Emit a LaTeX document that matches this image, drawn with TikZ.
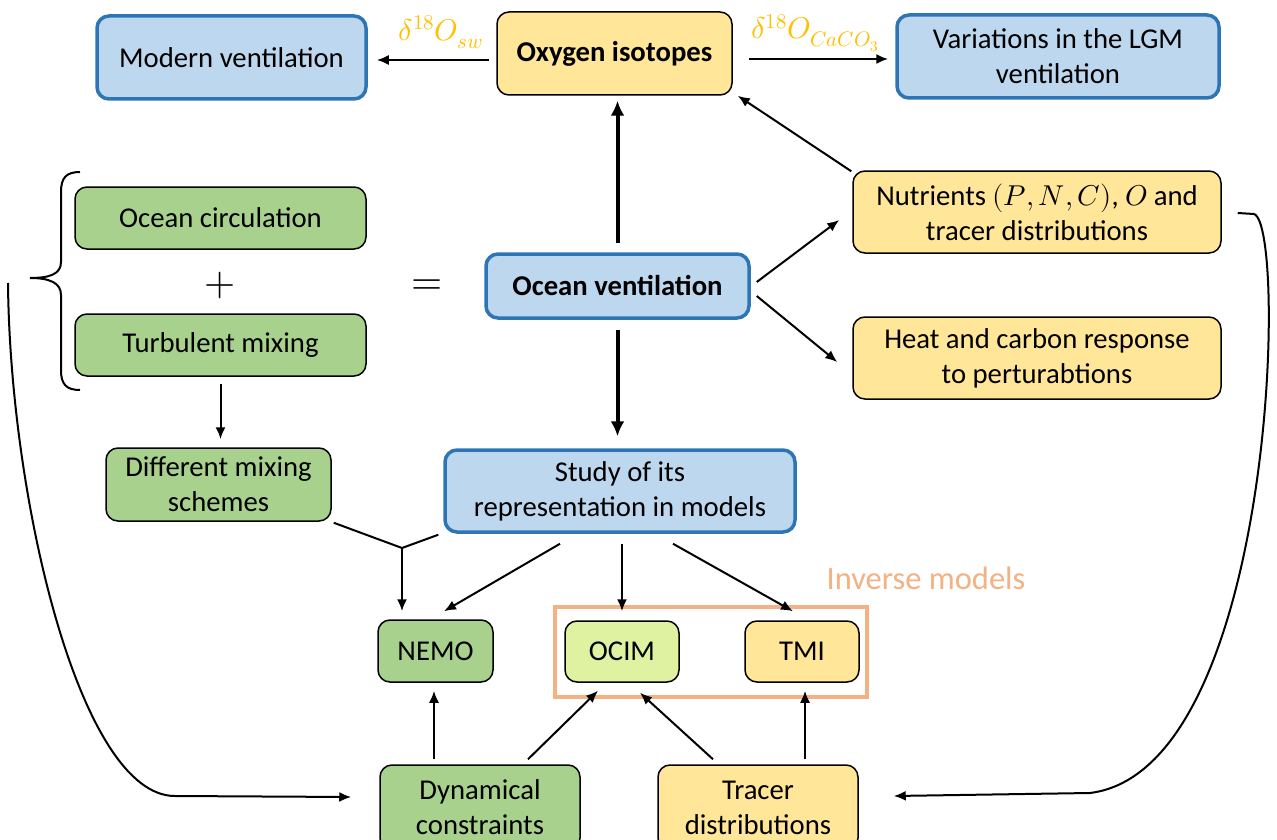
\documentclass[tikz,border=0pt]{standalone}
\usepackage{fontspec}
\usepackage{unicode-math}
\setmainfont{Carlito}
\usetikzlibrary{arrows.meta,calc}
\definecolor{bfill}{HTML}{BDD7EE}
\definecolor{bline}{HTML}{2E75B6}
\definecolor{yfill}{HTML}{FFE699}
\definecolor{gfill}{HTML}{A9D18E}
\definecolor{lgfill}{HTML}{DFF2A2}
\definecolor{orc}{HTML}{F4B183}
\definecolor{goldc}{HTML}{FFC000}
\begin{document}
\begin{tikzpicture}[x=1pt,y=-1pt,
  base/.style={rounded corners=12pt,align=center,inner sep=0pt,
    font=\fontsize{28.7}{35}\selectfont},
  bluebox/.style={base,draw=bline,line width=3.5pt,fill=bfill},
  yelbox/.style={base,draw=black,line width=1.5pt,fill=yfill},
  grnbox/.style={base,draw=black,line width=1.5pt,fill=gfill},
  lgbox/.style={base,draw=black,line width=1.5pt,fill=lgfill},
  sz/.style 2 args={minimum width=#1,minimum height=#2},
  arr/.style={line width=2pt,-{Latex[length=12pt,width=10pt]}},
  thickarr/.style={line width=4pt,-{Latex[length=15pt,width=14pt]}},
  ln/.style={line width=2pt},
  lbl/.style={text=goldc,font=\fontsize{30}{36}\selectfont,inner sep=0pt},
  big/.style={font=\fontsize{40}{44}\selectfont,inner sep=0pt}
]
\clip (0,0) rectangle (1277,840);
\fill[white] (0,0) rectangle (1277,840);

% top row
\node[bluebox,sz={269pt}{83pt}] (modern) at (231.5,57.5) {Modern ventilation};
\node[yelbox,sz={235pt}{83pt}] (oxy) at (614.5,53.5) {\bfseries Oxygen isotopes};
\node[bluebox,sz={322pt}{83pt}] (lgm) at (1058,56.5) {Variations in the LGM\\ventilation};
\node[lbl] (lsw) at (441,32) {$\delta^{18}O_{sw}$};
\node[lbl] (lca) at (815,33) {$\delta^{18}O_{CaCO_3}$};

% left group
\node[grnbox,sz={291pt}{62pt}] (oceanc) at (220.5,218) {Ocean circulation};
\node[big] (plus) at (220.5,285) {$+$};
\node[grnbox,sz={291pt}{62pt}] (turb) at (220.5,345) {Turbulent mixing};
\node[big] (eq) at (427,287) {$=$};
\draw[ln] (80,172) .. controls (66,172) and (61,178) .. (61,192) -- (61,262)
  .. controls (61,274) and (50,278) .. (30,278)
  .. controls (50,278) and (61,283) .. (61,295) -- (61,370)
  .. controls (61,384) and (66,390) .. (80,390);

% center
\node[bluebox,sz={263pt}{64pt}] (ovent) at (617.5,286) {\bfseries Ocean ventilation};
\node[yelbox,sz={368pt}{82pt}] (nutr) at (1037,212) {Nutrients $(P,N,C)$, $O$ and\\tracer distributions};
\node[yelbox,sz={368pt}{82pt}] (heat) at (1037,358) {Heat and carbon response\\to perturabtions};

\node[grnbox,sz={225pt}{73pt}] (diff) at (218.5,484.5) {Different mixing\\schemes};
\node[bluebox,sz={350pt}{82pt}] (study) at (620,491) {Study of its\\representation in models};

% models
\node[draw=orc,line width=4pt,sz={312pt}{90pt}] (inv) at (711,652) {};
\node[text=orc,font=\fontsize{32.5}{38}\selectfont,inner sep=0pt] (invlbl) at (926,578) {Inverse models};
\node[grnbox,sz={115pt}{62pt}] (nemo) at (435.5,651) {NEMO};
\node[lgbox,sz={114pt}{61pt}] (ocim) at (622,651.5) {OCIM};
\node[yelbox,sz={114pt}{61pt}] (tmi) at (802,651.5) {TMI};

% bottom
\node[grnbox,sz={200pt}{85pt}] (dyn) at (480,807.5) {Dynamical\\constraints};
\node[yelbox,sz={200pt}{85pt}] (tracer) at (758,807.5) {Tracer\\distributions};

% arrows
\draw[arr] ($(oxy.west)+(-7,6.5)$) -- ($(modern.east)+(9,2.5)$);
\draw[arr] ($(oxy.east)+(16,5.5)$) -- ($(lgm.west)+(-7,2.5)$);
\draw[thickarr] ($(ovent.north)+(0,-9)$) -- ($(oxy.south)+(3,5)$);
\draw[thickarr] ($(ovent.south)+(0,10)$) -- ($(study.north)+(-2.5,-12)$);
\draw[arr] ($(ovent.east)+(6,-4)$) -- ($(nutr.west)+(-13,8)$);
\draw[arr] ($(ovent.east)+(6,10)$) -- ($(heat.west)+(-15,4)$);
\draw[arr] ($(nutr.north west)+(-1,1)$) -- ($(oxy.south east)+(5,0)$);
\draw[arr] ($(turb.south)+(0,7)$) -- ($(diff.north)+(2,-8)$);

\coordinate (yj) at (402,548);
\draw[ln] ($(diff.south east)+(2,1)$) -- (yj);
\draw[ln] ($(study.south west)+(-5,1)$) -- (yj);
\draw[arr] (yj) -- ($(nemo.north)+(-33.5,-8)$);
\draw[arr] ($(study.south)+(-60,10)$) -- ($(nemo.north)+(8.5,-8)$);
\draw[arr] ($(study.south)+(2,10)$) -- ($(ocim.north)+(0,-9)$);
\draw[arr] ($(study.south)+(53,10)$) -- ($(tmi.north)+(-9,-9)$);

\draw[arr] ($(dyn.north)+(-46,-5)$) -- ($(nemo.south)+(-1.5,8)$);
\draw[arr] ($(dyn.north)+(48,-5)$) -- ($(ocim.south)+(-24,8)$);
\draw[arr] ($(tracer.north)+(-45,-5)$) -- ($(ocim.south)+(18,10)$);
\draw[arr] ($(tracer.north)+(47,-5)$) -- ($(tmi.south)+(3,8)$);

% feedback curves
\coordinate (lc) at (8,283);
\draw[arr] (lc) .. controls (10,500) and (80,796) .. (175,796) -- ($(dyn.west)+(-28,-10.5)$);
\draw[arr] ($(nutr.east)+(16,1)$) -- (1254,214) .. controls (1288,225) and (1275,770) .. (1090,793) -- ($(tracer.east)+(35,-11.5)$);
\end{tikzpicture}
\end{document}
